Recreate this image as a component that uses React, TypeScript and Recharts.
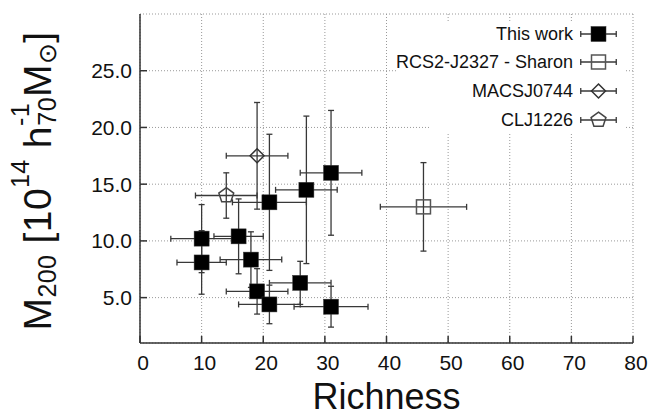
import { CartesianGrid, ErrorBar, Legend, Scatter, ScatterChart, XAxis, YAxis } from 'recharts'

const FONT = '"Liberation Sans", Arial, Helvetica, sans-serif'

const xTicks = [0, 10, 20, 30, 40, 50, 60, 70, 80]
const yTicks = [5, 10, 15, 20, 25]

// this work
const workRichness = [10, 10, 16, 18, 19, 21, 26, 31, 21, 27, 31]
const workMass = [10.2, 8.1, 10.4, 8.35, 5.55, 4.4, 6.3, 4.2, 13.4, 14.5, 16.0]
const workRichnessErr = [5, 4, 4, 5, 5, 5, 5, 6, 6, 5, 5]
const workMassErr = [3.0, 2.8, 3.3, 2.45, 2.0, 1.7, 1.9, 1.8, 6.0, 6.5, 5.5]

// comparison clusters
const sharonRichness = [46]
const sharonMass = [13.0]
const sharonRichnessErr = [7]
const sharonMassErr = [3.9]

const macsRichness = [19]
const macsMass = [17.5]
const macsRichnessErr = [5]
const macsMassErr = [4.7]

const cljRichness = [14]
const cljMass = [14.0]
const cljRichnessErr = [5]
const cljMassErr = [2.0]

const seriesNames = ['This work', 'RCS2-J2327 - Sharon', 'MACSJ0744', 'CLJ1226']
const seriesMarkers = ['filled', 'open', 'diamond', 'pentagon']

const toPoints = (xs: number[], ys: number[], exs: number[], eys: number[]) =>
  xs.map((x, i) => ({ x, y: ys[i], ex: exs[i], ey: eys[i] }))

const seriesData = [
  toPoints(workRichness, workMass, workRichnessErr, workMassErr),
  toPoints(sharonRichness, sharonMass, sharonRichnessErr, sharonMassErr),
  toPoints(macsRichness, macsMass, macsRichnessErr, macsMassErr),
  toPoints(cljRichness, cljMass, cljRichnessErr, cljMassErr),
]

const BAR = '#383838'

function Marker({ kind, cx, cy }: { kind: string; cx: number; cy: number }) {
  if (kind === 'filled') {
    return <rect x={cx - 7.5} y={cy - 7.5} width={15} height={15} fill="#000" stroke="#333" strokeWidth={0.5} />
  }
  if (kind === 'open') {
    return <rect x={cx - 7} y={cy - 7} width={14} height={14} fill="none" stroke="#555" strokeWidth={1.5} />
  }
  if (kind === 'diamond') {
    const pts = `${cx},${cy - 7} ${cx + 7},${cy} ${cx},${cy + 7} ${cx - 7},${cy}`
    return <polygon points={pts} fill="none" stroke="#333" strokeWidth={1.5} />
  }
  const r = 7.8
  const pts = [0, 1, 2, 3, 4]
    .map((k) => {
      const a = ((-90 + k * 72) * Math.PI) / 180
      return `${cx + r * Math.cos(a)},${cy + r * Math.sin(a)}`
    })
    .join(' ')
  return <polygon points={pts} fill="none" stroke="#444" strokeWidth={1.5} />
}

function KeyBox() {
  return (
    <div style={{ position: 'relative', width: 196, height: 111, background: '#fff', fontFamily: FONT, fontSize: 18, color: '#111' }}>
      {seriesNames.map((name, i) => (
        <div
          key={name}
          style={{ position: 'absolute', right: 9, top: 0.7 + i * 28.65, height: 22, display: 'flex', alignItems: 'center' }}
        >
          <span style={{ background: '#fff', whiteSpace: 'nowrap', lineHeight: '22px', marginRight: 7 }}>{name}</span>
          <svg width={37} height={22} style={{ display: 'block' }}>
            <line x1={0.75} y1={11} x2={36.25} y2={11} stroke={BAR} strokeWidth={1.3} />
            <line x1={0.75} y1={8} x2={0.75} y2={14} stroke={BAR} strokeWidth={1.3} />
            <line x1={36.25} y1={8} x2={36.25} y2={14} stroke={BAR} strokeWidth={1.3} />
            <Marker kind={seriesMarkers[i]} cx={18.5} cy={11} />
          </svg>
        </div>
      ))}
    </div>
  )
}

function MassLabel() {
  return (
    <text
      transform="translate(51,181) rotate(-90)"
      textAnchor="middle"
      fontFamily={FONT}
      fontSize={39}
      letterSpacing={0.4}
      fill="#111"
    >
      <tspan>M</tspan>
      <tspan fontSize={25} dy={5}>200</tspan>
      <tspan dy={-5}>{' [10'}</tspan>
      <tspan fontSize={25} dy={-22}>14</tspan>
      <tspan dy={22}>{' h'}</tspan>
      <tspan fontSize={25} dy={-22}>-1</tspan>
      <tspan fontSize={25} dx={-22.6} dy={27}>70</tspan>
      <tspan dy={-5}>M</tspan>
      <tspan fontSize={25} dy={5}>⊙</tspan>
      <tspan dy={-5}>]</tspan>
    </text>
  )
}

function RichnessLabel() {
  return (
    <text x={386.5} y={408.5} textAnchor="middle" fontFamily={FONT} fontSize={36} fill="#111">
      Richness
    </text>
  )
}

const axisStroke = { stroke: '#333', strokeWidth: 1.5 }

export default function App() {
  return (
    <div style={{ width: 660, height: 416, fontFamily: FONT }}>
      <style>{'body{margin:0}'}</style>
      <ScatterChart width={660} height={416} margin={{ top: 14, right: 27, bottom: 0, left: 80 }}>
        <CartesianGrid stroke="#999" strokeDasharray="1 2" />
        <XAxis
          type="number"
          dataKey="x"
          domain={[0, 80]}
          ticks={xTicks}
          allowDataOverflow
          height={73}
          tickSize={-7}
          tickMargin={19}
          axisLine={axisStroke}
          tickLine={axisStroke}
          tick={{ fill: '#111', fontSize: 21, dx: 3 }}
          label={<RichnessLabel />}
        />
        <XAxis
          xAxisId="top"
          orientation="top"
          type="number"
          domain={[0, 80]}
          ticks={xTicks}
          allowDataOverflow
          height={0}
          tickSize={-7}
          tick={false}
          axisLine={axisStroke}
          tickLine={axisStroke}
        />
        <YAxis
          type="number"
          dataKey="y"
          domain={[1, 30]}
          ticks={yTicks}
          allowDataOverflow
          width={60}
          tickSize={-7}
          tickMargin={15}
          tickFormatter={(v: number) => v.toFixed(1)}
          axisLine={axisStroke}
          tickLine={axisStroke}
          tick={{ fill: '#111', fontSize: 21 }}
          label={<MassLabel />}
        />
        <YAxis
          yAxisId="right"
          orientation="right"
          type="number"
          domain={[1, 30]}
          ticks={yTicks}
          allowDataOverflow
          width={0}
          tickSize={-7}
          tick={false}
          axisLine={axisStroke}
          tickLine={axisStroke}
        />
        <Legend
          layout="horizontal"
          verticalAlign="middle"
          align="center"
          content={() => <KeyBox />}
          wrapperStyle={{ left: 430, top: 22, width: 196, height: 111 }}
        />
        {seriesData.map((data, i) => (
          <Scatter
            key={seriesNames[i]}
            name={seriesNames[i]}
            data={data}
            isAnimationActive={false}
            shape={(p: any) => <Marker kind={seriesMarkers[i]} cx={p.cx} cy={p.cy} />}
          >
            <ErrorBar dataKey="ex" direction="x" width={3} stroke={BAR} strokeWidth={1.3} />
            <ErrorBar dataKey="ey" direction="y" width={3} stroke={BAR} strokeWidth={1.3} />
          </Scatter>
        ))}
      </ScatterChart>
    </div>
  )
}
